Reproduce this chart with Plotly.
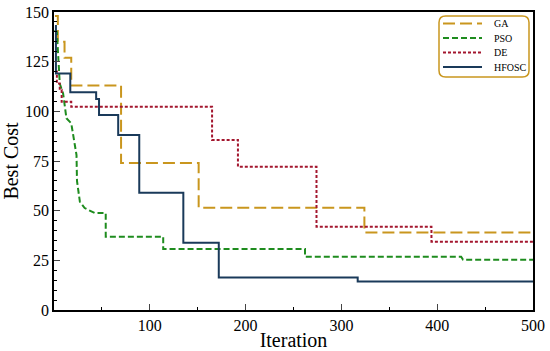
import plotly.graph_objects as go

# GA (step, hv)
ga_x = [1, 4, 11, 18, 70, 151, 324, 500]
ga_y = [148, 135, 127, 113, 74, 51.5, 39, 39]

# PSO (linear with explicit corners)
pso_x = [1, 3, 6, 9.5, 13, 18, 23.5, 24, 27, 32, 42.6, 54, 54, 114, 114, 262, 262, 425, 427, 500]
pso_y = [141, 140, 114, 109, 96.5, 94, 78, 65, 54.5, 51.3, 48.8, 48.8, 36.9, 36.9, 30.7, 30.7, 26.8, 26.8, 25.3, 25.3]

# DE (step, hv)
de_x = [1, 3, 6, 8, 18, 165, 192, 274, 394, 500]
de_y = [120, 114, 110.7, 104.8, 102.3, 85.6, 72.1, 41.9, 34.4, 34.4]

# HFOSC (step, hv)
hf_x = [1, 2, 17, 44, 47, 67, 89, 135, 172, 317, 500]
hf_y = [143, 119, 109.6, 106.2, 98.1, 88.1, 59, 33.9, 16.4, 14.3, 14.3]

names = ["GA", "PSO", "DE", "HFOSC"]
x_ticks = [100, 200, 300, 400, 500]
y_ticks = [0, 25, 50, 75, 100, 125, 150]

GOLD = "#C9961E"
GREEN = "#1E8C1E"
RED = "#A3162E"
NAVY = "#1A3A5A"
colors = [GOLD, GREEN, RED, NAVY]
dashes = ["12px,5px", "6px,3px", "3px,2px", "solid"]

fig = go.Figure()
fig.add_trace(go.Scatter(x=ga_x, y=ga_y, mode="lines", name="GA", line_shape="hv",
                         line=dict(color=GOLD, width=2, dash=dashes[0])))
fig.add_trace(go.Scatter(x=pso_x, y=pso_y, mode="lines", name="PSO",
                         line=dict(color=GREEN, width=2, dash=dashes[1])))
fig.add_trace(go.Scatter(x=de_x, y=de_y, mode="lines", name="DE", line_shape="hv",
                         line=dict(color=RED, width=2, dash=dashes[2])))
fig.add_trace(go.Scatter(x=hf_x, y=hf_y, mode="lines", name="HFOSC", line_shape="hv",
                         line=dict(color=NAVY, width=2)))

FF = "Liberation Serif"
tickfont = dict(family=FF, size=16, color="black")
fig.update_layout(
    width=550, height=351,
    margin=dict(l=54, r=17, t=12, b=41),
    paper_bgcolor="white", plot_bgcolor="white",
    font=dict(family=FF, color="black", size=16),
    showlegend=False,
    xaxis=dict(range=[0, 500], tickvals=x_ticks, ticks="inside", ticklen=6, tickwidth=1,
               tickfont=tickfont, automargin=False,
               showline=True, linecolor="black", linewidth=1.5, mirror=True,
               showgrid=False, zeroline=False,
               minor=dict(tickvals=[50, 150, 250, 350, 450], ticks="inside", ticklen=3, tickcolor="black"),
               title=dict(text="Iteration", standoff=0, font=dict(family=FF, size=20))),
    yaxis=dict(range=[0, 150], tickvals=y_ticks, ticks="inside", ticklen=6, tickwidth=1,
               tickfont=tickfont, automargin=False,
               showline=True, linecolor="black", linewidth=1.5, mirror=True,
               showgrid=False, zeroline=False,
               minor=dict(dtick=5, ticks="inside", ticklen=3, tickcolor="black"),
               title=dict(text="Best Cost", standoff=6, font=dict(family=FF, size=20))),
)

# manual legend (paper coords)
def px2x(px):
    return (px - 54) / 479.0

def py2y(py):
    return (310 - py) / 298.0

leg_rows = [23.5, 38, 52.5, 67]
for i, nm in enumerate(names):
    yy = py2y(leg_rows[i])
    fig.add_shape(type="line", xref="paper", yref="paper",
                  x0=px2x(443), x1=px2x(482), y0=yy, y1=yy,
                  line=dict(color=colors[i], width=2, dash=dashes[i]))
    fig.add_annotation(xref="paper", yref="paper", x=px2x(492), y=yy,
                       xanchor="left", yanchor="middle", text=nm, showarrow=False,
                       font=dict(family=FF, size=10, color="black"))

# rounded legend frame
x0, x1, y0, y1 = px2x(439), px2x(529), py2y(77), py2y(16)
rx, ry = 0.014, 0.022
path = (f"M {x0+rx},{y1} L {x1-rx},{y1} Q {x1},{y1} {x1},{y1-ry} L {x1},{y0+ry} "
        f"Q {x1},{y0} {x1-rx},{y0} L {x0+rx},{y0} Q {x0},{y0} {x0},{y0+ry} "
        f"L {x0},{y1-ry} Q {x0},{y1} {x0+rx},{y1} Z")
fig.add_shape(type="path", path=path, xref="paper", yref="paper",
              line=dict(color=GOLD, width=1.5), fillcolor="rgba(255,255,255,0)")

fig.write_html("out.html", config={"displayModeBar": False},
               post_script="document.body.style.margin='0px';document.body.style.overflow='hidden';")
